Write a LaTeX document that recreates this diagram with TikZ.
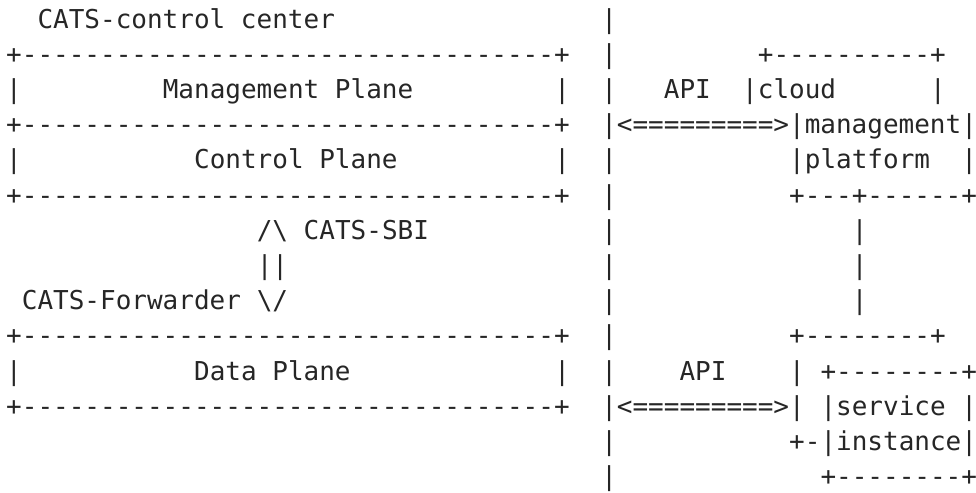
\documentclass[tikz,border=0pt]{standalone}
\usepackage{fontspec}
\setmonofont{DejaVu Sans Mono}

\newcommand{\planerule}{+----------------------------------+}

\begin{document}
\begin{tikzpicture}[x=7.83pt, y=-17.6pt]
  \tikzstyle{ascii} = [font=\ttfamily\fontsize{13pt}{15pt}\selectfont, text=black!85,
                       anchor=base west, inner sep=0pt, outer sep=0pt]
  \useasboundingbox (0pt,0pt) rectangle (488pt,-246.5pt);
  \begin{scope}[shift={(3.1pt,-14pt)}]
    % divider between the CATS side and the cloud side
    \foreach \r in {0,...,13}
      \node [ascii] (div\r) at (38,\r) {|};
    % CATS-control center
    \node [ascii] (center) at (2,0) {CATS-control center};
    \node [ascii] (mgmttop) at (0,1) {\planerule};
    \node [ascii] (mgmtl) at (0,2) {|};
    \node [ascii] (mgmt) at (10,2) {Management Plane};
    \node [ascii] (mgmtr) at (35,2) {|};
    \node [ascii] (ctrltop) at (0,3) {\planerule};
    \node [ascii] (ctrll) at (0,4) {|};
    \node [ascii] (ctrl) at (12,4) {Control Plane};
    \node [ascii] (ctrlr) at (35,4) {|};
    \node [ascii] (ctrlbot) at (0,5) {\planerule};
    % southbound interface
    \node [ascii] (sbiup) at (16,6) {/\textbackslash};
    \node [ascii] (sbi) at (19,6) {CATS-SBI};
    \node [ascii] (sbimid) at (16,7) {||};
    \node [ascii] (fwd) at (1,8) {CATS-Forwarder};
    \node [ascii] (sbidown) at (16,8) {\textbackslash/};
    \node [ascii] (datatop) at (0,9) {\planerule};
    \node [ascii] (datal) at (0,10) {|};
    \node [ascii] (data) at (12,10) {Data Plane};
    \node [ascii] (datar) at (35,10) {|};
    \node [ascii] (databot) at (0,11) {\planerule};
    % cloud management platform
    \node [ascii] (cloudtop) at (48,1) {+----------+};
    \node [ascii] (api1) at (42,2) {API};
    \node [ascii] (cloud) at (47,2) {|cloud};
    \node [ascii] (cloudr) at (59,2) {|};
    \node [ascii] (api1link) at (39,3) {<=========>|management|};
    \node [ascii] (platform) at (50,4) {|platform};
    \node [ascii] (platformr) at (61,4) {|};
    \node [ascii] (cloudbot) at (50,5) {+---+------+};
    \foreach \r in {6,7,8}
      \node [ascii] (tie\r) at (54,\r) {|};
    % service instance
    \node [ascii] (stacktop) at (50,9) {+--------+};
    \node [ascii] (api2) at (43,10) {API};
    \node [ascii] (stackl) at (50,10) {|};
    \node [ascii] (svctop) at (52,10) {+--------+};
    \node [ascii] (api2link) at (39,11) {<=========>|};
    \node [ascii] (svc) at (52,11) {|service};
    \node [ascii] (svcr) at (61,11) {|};
    \node [ascii] (inst) at (50,12) {+-|instance|};
    \node [ascii] (svcbot) at (52,13) {+--------+};
  \end{scope}
\end{tikzpicture}
\end{document}
